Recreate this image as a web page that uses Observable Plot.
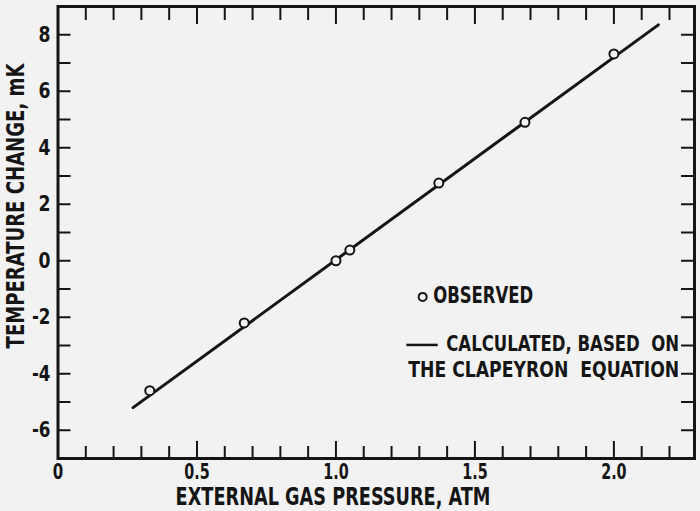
<!DOCTYPE html>
<html>
<head>
<meta charset="utf-8">
<script src="https://cdn.jsdelivr.net/npm/d3@7"></script>
<script src="https://cdn.jsdelivr.net/npm/@observablehq/plot@0.6"></script>
<style>
  html, body { margin: 0; padding: 0; background: #f2f2f2; }
  #chart svg { display: block; }
  #chart svg text { font-stretch: condensed; }
</style>
</head>
<body>
<div id="chart"></div>
<script>
// Observed points (external gas pressure, atm ; temperature change, mK)
const pressure = [0.33, 0.67, 1.0, 1.05, 1.37, 1.68, 2.0];
const tempChange = [-4.6, -2.2, 0.0, 0.38, 2.75, 4.9, 7.32];
// Calculated line (Clapeyron equation) endpoints
const calcPressure = [0.27, 2.16];
const calcTemp = [-5.2, 8.35];
// Axis ticks
const xLabelTicks = [0, 0.5, 1.0, 1.5, 2.0];
const xLabelText = ["0", "0.5", "1.0", "1.5", "2.0"];
const xMinorTicks = [0.1,0.2,0.3,0.4,0.6,0.7,0.8,0.9,1.1,1.2,1.3,1.4,1.6,1.7,1.8,1.9,2.1,2.2];
const xMajorTicks = [0.5, 1.0, 1.5, 2.0];
const yLabelTicks = [-6, -4, -2, 0, 2, 4, 6, 8];
const yTicks = [-6, -5, -4, -3, -2, -1, 0, 1, 2, 3, 4, 5, 6, 7, 8];
const xTitle = "EXTERNAL GAS PRESSURE, ATM";
const yTitle = "TEMPERATURE CHANGE, mK";
const legendObserved = "OBSERVED";
const legendCalc1 = "CALCULATED, BASED  ON";
const legendCalc2 = "THE CLAPEYRON  EQUATION";

const observed = pressure.map((p, i) => ({p, t: tempChange[i]}));
const calculated = calcPressure.map((p, i) => ({p, t: calcTemp[i]}));

const X0 = 0, X1 = 2.29, Y0 = -7, Y1 = 9;
const W = 700, H = 511, ML = 57.5, MR = 6, MT = 6, MB = 53;
const pxX = (X1 - X0) / (W - ML - MR);   // data units per pixel
const pxY = (Y1 - Y0) / (H - MT - MB);
const ink = "#151515";
const bg = "#f2f2f2";
const font = "'DejaVu Sans', sans-serif";

const chart = Plot.plot({
  width: W, height: H,
  marginLeft: ML, marginRight: MR, marginTop: MT, marginBottom: MB,
  x: {domain: [X0, X1], axis: null},
  y: {domain: [Y0, Y1], axis: null},
  style: {background: bg, fontFamily: font, fontWeight: "bold", color: ink},
  marks: [
    // inward ticks: bottom & top
    Plot.ruleX(xMinorTicks, {x: d => d, y1: Y0, y2: Y0 + 12 * pxY, stroke: ink, strokeWidth: 2}),
    Plot.ruleX(xMajorTicks, {x: d => d, y1: Y0, y2: Y0 + 17 * pxY, stroke: ink, strokeWidth: 2}),
    Plot.ruleX(xMinorTicks, {x: d => d, y1: Y1, y2: Y1 - 14 * pxY, stroke: ink, strokeWidth: 2}),
    Plot.ruleX(xMajorTicks, {x: d => d, y1: Y1, y2: Y1 - 18 * pxY, stroke: ink, strokeWidth: 2}),
    // inward ticks: left & right
    Plot.ruleY(yTicks, {y: d => d, x1: X0, x2: X0 + 13 * pxX, stroke: ink, strokeWidth: 2}),
    Plot.ruleY(yTicks, {y: d => d, x1: X1, x2: X1 - 13 * pxX, stroke: ink, strokeWidth: 2}),
    Plot.frame({stroke: ink, strokeWidth: 3}),
    // tick labels
    Plot.text(xLabelTicks, {x: d => d, y: Y0, text: (d, i) => xLabelText[i], dy: 14, lineAnchor: "middle", fontSize: 21, fill: ink, className: "xlab"}),
    Plot.text(yLabelTicks, {x: X0, y: d => d, text: d => d < 0 ? "-" + Math.abs(d) : String(d), dx: -7.5, textAnchor: "end", lineAnchor: "middle", fontSize: 22, fill: ink, className: "ylab"}),
    // axis titles
    Plot.text([xTitle], {x: X0 + (332.5 - ML) * pxX, y: Y0, dy: 38.5, lineAnchor: "middle", text: d => d, fontSize: 24, fill: ink, className: "xtitle"}),
    Plot.text([yTitle], {x: X0, y: Y1 - (205.5 - MT) * pxY, dx: -(ML - 15.5), lineAnchor: "middle", rotate: -90, text: d => d, fontSize: 24.5, fill: ink, className: "ytitle"}),
    // calculated line
    Plot.line(calculated, {x: "p", y: "t", stroke: ink, strokeWidth: 3}),
    // observed points
    Plot.dot(observed, {x: "p", y: "t", r: 4.5, stroke: ink, strokeWidth: 2, fill: bg}),
    // legend
    Plot.dot([0], {x: 1.312, y: -1.28, r: 4, stroke: ink, strokeWidth: 2, fill: bg}),
    Plot.text([legendObserved], {x: 1.312, y: -1.23, dx: 10.5, textAnchor: "start", lineAnchor: "middle", text: d => d, fontSize: 23, fill: ink, className: "lobs"}),
    Plot.ruleY([0], {y: -2.98, x1: 1.255, x2: 1.368, stroke: ink, strokeWidth: 2.5}),
    Plot.text([legendCalc1], {x: 2.235, y: -2.96, textAnchor: "end", lineAnchor: "middle", text: d => d, fontSize: 21.5, fill: ink, className: "lc1"}),
    Plot.text([legendCalc2], {x: 2.235, y: -3.855, textAnchor: "end", lineAnchor: "middle", text: d => d, fontSize: 21.5, fill: ink, className: "lc2"})
  ]
});
document.getElementById("chart").appendChild(chart);

// Condensed lettering: squeeze each text horizontally (about its anchor) to the reference width.
const svg = d3.select(chart);
function fit(cls, width) {
  svg.selectAll(`.${cls} text`).each(function () {
    const w = typeof width === "function" ? width(this.textContent) : width;
    const natural = this.getComputedTextLength();
    if (!(natural > 0)) return;
    const sx = w / natural;
    const t = this.getAttribute("transform") || "";
    this.setAttribute("transform", `${t} scale(${sx},1)`.trim());
  });
}
const numWidth = (digit) => (s) => Array.from(s).reduce((a, c) => a + (c === "." ? digit * 0.42 : c === "-" ? digit * 0.55 : digit), 0);
fit("xlab", numWidth(10.5));
fit("ylab", numWidth(12));
fit("xtitle", 315);
fit("ytitle", 285);
fit("lobs", 100);
fit("lc1", 233);
fit("lc2", 271);
</script>
</body>
</html>
